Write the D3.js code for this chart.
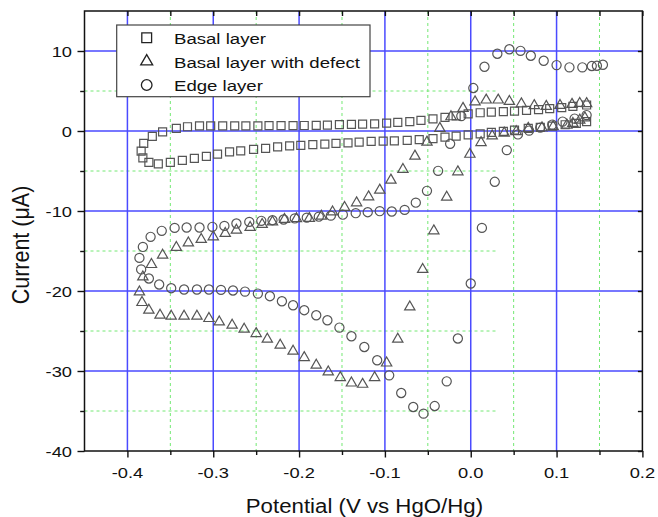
<!DOCTYPE html>
<html>
<head>
<meta charset="utf-8">
<script src="https://cdn.jsdelivr.net/npm/d3@7"></script>
<style>
  body { margin: 0; background: #fff; }
  text { font-family: "Liberation Sans", Arial, Helvetica, sans-serif; fill: #111; }
</style>
</head>
<body>
<svg id="chart" width="658" height="517"></svg>
<script>
// Cyclic voltammograms: potential (V vs HgO/Hg) and current (µA), one sweep per array pair
const basalPotential = [
  -0.384, -0.381, -0.371, -0.359, -0.343, -0.330, -0.316, -0.303, -0.289, -0.275,
  -0.262, -0.248, -0.235, -0.221, -0.207, -0.194, -0.180, -0.167, -0.153, -0.139,
  -0.126, -0.112, -0.098, -0.085, -0.071, -0.058, -0.044, -0.030, -0.017, -0.003,
  0.011, 0.024, 0.038, 0.051, 0.065, 0.079, 0.092, 0.106, 0.119, 0.135,
  0.135, 0.123, 0.110, 0.095, 0.081, 0.067, 0.051, 0.038, 0.024, 0.011,
  -0.003, -0.017, -0.030, -0.044, -0.060, -0.074, -0.089, -0.102, -0.116, -0.130,
  -0.143, -0.157, -0.170, -0.184, -0.198, -0.211, -0.225, -0.239, -0.253, -0.268,
  -0.281, -0.295, -0.308, -0.322, -0.336, -0.350, -0.364, -0.375, -0.382
];
const basalCurrent = [
  -2.51, -1.55, -0.68, -0.10, 0.33, 0.53, 0.64, 0.65, 0.65, 0.65,
  0.65, 0.65, 0.66, 0.68, 0.68, 0.69, 0.70, 0.74, 0.80, 0.83,
  0.86, 0.90, 0.99, 1.08, 1.18, 1.33, 1.51, 1.70, 1.90, 2.14,
  2.28, 2.36, 2.43, 2.49, 2.58, 2.68, 2.80, 2.93, 3.08, 3.25,
  1.18, 0.95, 0.78, 0.61, 0.45, 0.33, 0.11, -0.05, -0.18, -0.35,
  -0.48, -0.64, -0.76, -0.95, -1.08, -1.18, -1.23, -1.26, -1.30, -1.39,
  -1.48, -1.55, -1.64, -1.70, -1.80, -1.86, -1.98, -2.18, -2.30, -2.48,
  -2.60, -2.89, -3.18, -3.43, -3.68, -3.93, -4.12, -3.92, -3.37
];

const defectPotential = [
  -0.382, -0.372, -0.359, -0.343, -0.329, -0.314, -0.300, -0.286, -0.273, -0.257,
  -0.243, -0.231, -0.217, -0.203, -0.188, -0.174, -0.161, -0.147, -0.133, -0.119,
  -0.106, -0.093, -0.079, -0.065, -0.051, -0.036, -0.023, -0.009, 0.005, 0.018,
  0.032, 0.045, 0.059, 0.074, 0.088, 0.104, 0.118, 0.127, 0.135,
  0.133, 0.127, 0.119, 0.112, 0.096, 0.083, 0.067, 0.053, 0.039, 0.025,
  0.012, -0.001, -0.015, -0.028, -0.043, -0.056, -0.071, -0.085, -0.098, -0.112,
  -0.126, -0.139, -0.152, -0.166, -0.180, -0.194, -0.207, -0.222, -0.237, -0.250,
  -0.264, -0.278, -0.293, -0.305, -0.319, -0.334, -0.349, -0.362, -0.375, -0.383,
  -0.386
];
const defectCurrent = [
  -18.24, -16.69, -15.52, -14.56, -13.99, -13.56, -13.23, -12.81, -12.40, -12.06,
  -11.68, -11.36, -11.06, -10.96, -10.93, -10.65, -10.11, -9.56, -8.98, -8.23,
  -7.39, -6.14, -4.80, -3.14, -1.39, 0.33, 1.78, 2.83, 3.65, 3.87,
  3.87, 3.70, 3.40, 3.18, 3.08, 3.20, 3.33, 3.45, 3.43,
  1.65, 1.36, 0.95, 0.74, 0.55, 0.40, 0.33, -0.08, -0.26, -0.61,
  -1.45, -2.91, -5.10, -8.27, -12.48, -17.31, -21.99, -26.03, -29.00, -30.82,
  -31.66, -31.50, -30.82, -30.12, -29.28, -28.32, -27.53, -26.78, -26.03, -25.32,
  -24.78, -24.28, -23.87, -23.44, -23.15, -23.15, -23.15, -23.03, -22.40, -21.44,
  -20.12
];

const edgePotential = [
  -0.386, -0.382, -0.373, -0.360, -0.345, -0.331, -0.316, -0.301, -0.287, -0.273,
  -0.258, -0.244, -0.231, -0.218, -0.205, -0.191, -0.177, -0.163, -0.149, -0.134,
  -0.120, -0.106, -0.092, -0.077, -0.064, -0.051, -0.038, -0.024, -0.011, 0.003,
  0.016, 0.031, 0.045, 0.058, 0.070, 0.085, 0.100, 0.115, 0.130, 0.141,
  0.147, 0.154,
  0.135, 0.121, 0.107, 0.095, 0.081, 0.068, 0.055, 0.042, 0.028, 0.013,
  0.000, -0.015, -0.028, -0.042, -0.055, -0.067, -0.081, -0.095, -0.109, -0.124,
  -0.139, -0.153, -0.167, -0.180, -0.194, -0.207, -0.220, -0.234, -0.248, -0.263,
  -0.277, -0.291, -0.305, -0.319, -0.334, -0.349, -0.363, -0.375, -0.384
];
const edgeCurrent = [
  -15.86, -14.49, -13.23, -12.48, -12.11, -12.06, -12.06, -11.98, -11.86, -11.56,
  -11.36, -11.23, -11.15, -11.06, -10.93, -10.83, -10.71, -10.58, -10.46, -10.27,
  -10.15, -10.02, -10.06, -9.86, -8.96, -7.48, -4.98, -1.60, 1.86, 5.37,
  8.03, 9.66, 10.22, 10.02, 9.41, 8.78, 8.24, 7.96, 7.96, 8.12,
  8.16, 8.28,
  1.99, 1.55, 1.18, 0.80, 0.43, 0.05, -0.43, -2.39, -6.35, -12.11,
  -19.06, -25.94, -31.29, -34.38, -35.33, -34.50, -32.75, -30.54, -28.66, -27.00,
  -25.66, -24.57, -23.66, -23.03, -22.40, -21.78, -21.28, -20.65, -20.32, -20.07,
  -19.94, -19.86, -19.81, -19.81, -19.81, -19.65, -19.19, -18.44, -17.30
];

const seriesNames = ["Basal layer", "Basal layer with defect", "Edge layer"];

const xMajorTicks = [-0.4, -0.3, -0.2, -0.1, 0.0, 0.1, 0.2];
const xTickLabels = ["-0.4", "-0.3", "-0.2", "-0.1", "0.0", "0.1", "0.2"];
const xMinorTicks = [-0.35, -0.25, -0.15, -0.05, 0.05, 0.15];
const yMajorTicks = [-40, -30, -20, -10, 0, 10];
const yTickLabels = ["-40", "-30", "-20", "-10", "0", "10"];
const yMinorTicks = [-35, -25, -15, -5, 5];

const xTitle = "Potential (V vs HgO/Hg)";
const yTitle = "Current (\u03BCA)";

// ---- layout ----
const plot = { left: 84.5, right: 642.4, top: 11, bottom: 451 };
const xDomain = [-0.45, 0.2];
const yDomain = [-40, 15];
const minorRowEnd = 0.03;   // horizontal dotted rows stop here

const x = d3.scaleLinear().domain(xDomain).range([plot.left, plot.right]);
const y = d3.scaleLinear().domain(yDomain).range([plot.bottom, plot.top]);

const svg = d3.select("#chart");

// minor grid (green, dotted)
const minorGrid = svg.append("g")
  .attr("stroke", "#74e874").attr("stroke-width", 1).attr("stroke-dasharray", "3,3");
minorGrid.selectAll("line.v").data(xMinorTicks).join("line").attr("class", "v")
  .attr("x1", d => x(d)).attr("x2", d => x(d))
  .attr("y1", plot.top).attr("y2", plot.bottom);
minorGrid.selectAll("line.h").data(yMinorTicks).join("line").attr("class", "h")
  .attr("x1", plot.left).attr("x2", x(minorRowEnd))
  .attr("y1", d => y(d)).attr("y2", d => y(d));

// major grid (blue)
const majorGrid = svg.append("g").attr("stroke", "#4a4aff").attr("stroke-width", 1.5);
majorGrid.selectAll("line.v").data(xMajorTicks.filter(d => d > xDomain[0] && d < xDomain[1]))
  .join("line").attr("class", "v")
  .attr("x1", d => x(d)).attr("x2", d => x(d))
  .attr("y1", plot.top).attr("y2", plot.bottom);
majorGrid.selectAll("line.h").data(yMajorTicks.filter(d => d > yDomain[0] && d < yDomain[1]))
  .join("line").attr("class", "h")
  .attr("x1", plot.left).attr("x2", plot.right)
  .attr("y1", d => y(d)).attr("y2", d => y(d));

// ---- data markers ----
const series = [
  { name: seriesNames[0], px: basalPotential, py: basalCurrent, type: d3.symbolSquare, size: 64, legendSize: 96 },
  { name: seriesNames[1], px: defectPotential, py: defectCurrent, type: d3.symbolTriangle, size: 46, legendSize: 62 },
  { name: seriesNames[2], px: edgePotential, py: edgeCurrent, type: d3.symbolCircle, size: 66, legendSize: 88 }
];

series.forEach(s => {
  const pts = s.px.map((v, i) => [v, s.py[i]]);
  const sym = d3.symbol().type(s.type).size(s.size);
  svg.append("g")
    .attr("fill", "none").attr("stroke", "#555").attr("stroke-width", 1.2)
    .selectAll("path").data(pts).join("path")
    .attr("transform", d => `translate(${x(d[0])},${y(d[1])})`)
    .attr("d", sym);
});

// ---- frame and ticks ----
svg.append("rect")
  .attr("x", plot.left).attr("y", plot.top)
  .attr("width", plot.right - plot.left).attr("height", plot.bottom - plot.top)
  .attr("fill", "none").attr("stroke", "#111").attr("stroke-width", 1.5);

function tickAxis(axis, values, size, transform) {
  const g = svg.append("g").attr("transform", transform)
    .call(axis.tickValues(values).tickSize(size).tickSizeOuter(0).tickFormat(""));
  g.select(".domain").remove();
  g.selectAll(".tick line").attr("stroke", "#111").attr("stroke-width", 1.4);
}
tickAxis(d3.axisBottom(x), xMajorTicks, 6.5, `translate(0,${plot.bottom})`);
tickAxis(d3.axisBottom(x), xMinorTicks, 4, `translate(0,${plot.bottom})`);
tickAxis(d3.axisTop(x), xMajorTicks, -5, `translate(0,${plot.top})`);
tickAxis(d3.axisTop(x), xMinorTicks, -5, `translate(0,${plot.top})`);
tickAxis(d3.axisLeft(y), yMajorTicks, 7, `translate(${plot.left},0)`);
tickAxis(d3.axisLeft(y), yMinorTicks, 4.3, `translate(${plot.left},0)`);
tickAxis(d3.axisRight(y), yMajorTicks, -4.5, `translate(${plot.right},0)`);
tickAxis(d3.axisRight(y), yMinorTicks, -4.5, `translate(${plot.right},0)`);

// ---- tick labels (slightly wide lettering) ----
const labelSize = 15.5, labelStretch = 1.18;
svg.append("g").selectAll("text").data(xMajorTicks).join("text")
  .attr("transform", d => `translate(${x(d)},478.3) scale(${labelStretch},1)`)
  .attr("text-anchor", "middle").attr("font-size", labelSize)
  .text((d, i) => xTickLabels[i]);
svg.append("g").selectAll("text").data(yMajorTicks).join("text")
  .attr("transform", d => `translate(72,${y(d) + 5.5}) scale(${labelStretch},1)`)
  .attr("text-anchor", "end").attr("font-size", labelSize)
  .text((d, i) => yTickLabels[i]);

// ---- axis titles ----
svg.append("text")
  .attr("transform", `translate(${(plot.left + plot.right) / 2 + 1},513) scale(1.06,1)`)
  .attr("text-anchor", "middle").attr("font-size", 21)
  .text(xTitle);
svg.append("text")
  .attr("transform", `translate(28.5,245) scale(1.08,1) rotate(-90)`)
  .attr("text-anchor", "middle").attr("font-size", 21.5)
  .text(yTitle);

// ---- legend ----
const legend = svg.append("g");
legend.append("rect")
  .attr("x", 116.7).attr("y", 25).attr("width", 253.3).attr("height", 71.7)
  .attr("fill", "#fff").attr("stroke", "#444").attr("stroke-width", 1.2);
const rowY = [37.7, 61.5, 85];
series.forEach((s, i) => {
  legend.append("path")
    .attr("transform", `translate(146.7,${rowY[i]})`)
    .attr("d", d3.symbol().type(s.type).size(s.legendSize))
    .attr("fill", "none").attr("stroke", "#222").attr("stroke-width", 1.3);
  legend.append("text")
    .attr("transform", `translate(174,${rowY[i] + 6.3}) scale(1.2,1)`)
    .attr("font-size", 15.5)
    .text(s.name);
});
</script>
</body>
</html>
